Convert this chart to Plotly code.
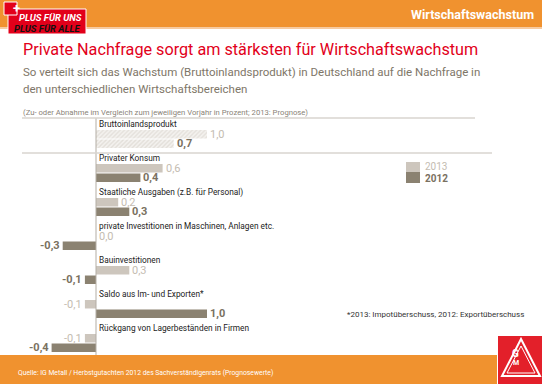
import plotly.graph_objects as go

categories = [
    "Bruttoinlandsprodukt",
    "Privater Konsum",
    "Staatliche Ausgaben (z.B. für Personal)",
    "private Investitionen in Maschinen, Anlagen etc.",
    "Bauinvestitionen",
    "Saldo aus Im- und Exporten*",
    "Rückgang von Lagerbeständen in Firmen",
]
values_2013 = [1.0, 0.6, 0.2, 0.0, 0.3, -0.1, -0.1]
values_2012 = [0.7, 0.4, 0.3, -0.3, -0.1, 1.0, -0.4]
series_names = ["2013", "2012"]

FONT = "Roboto, Lato, sans-serif"
C13 = "#cdc6bd"
C12 = "#8b8271"
T13 = "#c4bcb1"
T12 = "#7a7161"
ORANGE = "#f0922f"
RED = "#e2001a"

W, H = 542, 384
ML, MR, MT, MB = 22, 52, 118, 29
PX_PER_UNIT = 111
ZERO_PX = 96
ROW_PX = 34
FIRST_ROW_PX = 139

x_range = [-(ZERO_PX - ML) / PX_PER_UNIT, (W - MR - ZERO_PX) / PX_PER_UNIT]
y_top = (MT - FIRST_ROW_PX) / ROW_PX
y_bot = (H - MB - FIRST_ROW_PX) / ROW_PX

idx = list(range(len(categories)))
hatch = ["/" if i == 0 else "" for i in idx]

fig = go.Figure()
fig.add_trace(go.Bar(
    y=idx, x=values_2013, orientation="h", name=series_names[0],
    width=0.25, offset=-0.265,
    marker=dict(color=C13, line=dict(width=0),
                pattern=dict(shape=hatch, fgcolor="#d3cec7", bgcolor="#f4f2ef",
                             size=3, solidity=0.45)),
    showlegend=False, hoverinfo="skip",
))
fig.add_trace(go.Bar(
    y=idx, x=values_2012, orientation="h", name=series_names[1],
    width=0.25, offset=0.015,
    marker=dict(color=C12, line=dict(width=0),
                pattern=dict(shape=hatch, fgcolor="#cfc9c1", bgcolor="#f4f2ef",
                             size=3, solidity=0.45)),
    showlegend=False, hoverinfo="skip",
))

ann = []
shapes = []


def fmt(v):
    return f"{v:.1f}".replace(".", ",")


for i, cat in enumerate(categories):
    ann.append(dict(x=0, y=i - 0.44, xref="x", yref="y", text=cat, showarrow=False,
                    xanchor="left", yanchor="middle", xshift=1,
                    font=dict(family=FONT, size=8.3, color="#222222")))
    for v, off, col, bold in [(values_2013[i], -0.13, T13, False), (values_2012[i], 0.14, T12, True)]:
        txt = fmt(v)
        if bold:
            txt = "<b>" + txt + "</b>"
        ann.append(dict(x=v, y=i + off, xref="x", yref="y", text=txt, showarrow=False,
                        xanchor="left" if v >= 0 else "right", yanchor="middle",
                        xshift=1 if v >= 0 else -1,
                        font=dict(family=FONT, size=11, color=col)))


def px_x(px):
    return (px - ML) / (W - ML - MR)


def px_y(py):
    return 1 - (py - MT) / (H - MT - MB)


# axis / separator lines
shapes.append(dict(type="line", xref="x", yref="paper", x0=0, x1=0, y0=0, y1=1,
                   line=dict(color="#b3ada4", width=1)))
shapes.append(dict(type="line", xref="paper", yref="paper", x0=0, x1=px_x(475),
                   y0=1, y1=1, line=dict(color="#d9d5cf", width=1.5)))
sep_y = 0.41
shapes.append(dict(type="line", xref="paper", yref="y", x0=0, x1=px_x(492),
                   y0=sep_y, y1=sep_y, line=dict(color="#d9d5cf", width=1.5)))

# header band
shapes.append(dict(type="rect", xref="paper", yref="paper", x0=px_x(0), x1=px_x(W),
                   y0=px_y(27), y1=px_y(0), fillcolor=ORANGE, line=dict(width=0), layer="below"))
shapes.append(dict(type="rect", xref="paper", yref="paper", x0=px_x(0), x1=px_x(W),
                   y0=px_y(29), y1=px_y(27), fillcolor="#f7caa0", line=dict(width=0), layer="below"))
# footer band
shapes.append(dict(type="rect", xref="paper", yref="paper", x0=px_x(0), x1=px_x(497),
                   y0=px_y(H), y1=px_y(355), fillcolor=ORANGE, line=dict(width=0)))
# IG Metall logo
shapes.append(dict(type="rect", xref="paper", yref="paper", x0=px_x(498), x1=px_x(W),
                   y0=px_y(H), y1=px_y(336), fillcolor="#e3202a", line=dict(width=0)))


def tri_path(pts):
    return "M " + " L ".join(f"{px_x(a)},{px_y(b)}" for a, b in pts) + " Z"


shapes.append(dict(type="path", xref="paper", yref="paper",
                   path=tri_path([(521, 339), (502, 376), (540, 376)]),
                   line=dict(color="white", width=2)))
shapes.append(dict(type="path", xref="paper", yref="paper",
                   path=tri_path([(521, 346), (507, 373), (535, 373)]),
                   line=dict(color="white", width=1)))
ann.append(dict(x=px_x(521), y=px_y(361), xref="paper", yref="paper", text="<b>G</b>",
                showarrow=False, font=dict(family=FONT, size=10, color="white")))
ann.append(dict(x=px_x(521), y=px_y(369), xref="paper", yref="paper", text="<b>M</b>",
                showarrow=False, font=dict(family=FONT, size=7, color="white")))

# top-left logo
shapes.append(dict(type="rect", xref="paper", yref="paper", x0=px_x(8), x1=px_x(86),
                   y0=px_y(34), y1=px_y(9), fillcolor=RED, line=dict(color="white", width=1)))
shapes.append(dict(type="rect", xref="paper", yref="paper", x0=px_x(4), x1=px_x(17),
                   y0=px_y(15), y1=px_y(2), fillcolor=RED, line=dict(color="white", width=1)))
ann.append(dict(x=px_x(10.5), y=px_y(8.5), xref="paper", yref="paper", text="<b>+</b>",
                showarrow=False, yanchor="middle", font=dict(family=FONT, size=13, color="white")))
ann.append(dict(x=px_x(17), y=px_y(17), xref="paper", yref="paper", text="<b><i>PLUS FÜR UNS</i></b>",
                showarrow=False, xanchor="left", yanchor="middle",
                font=dict(family=FONT, size=9.5, color="white")))
ann.append(dict(x=px_x(12), y=px_y(28), xref="paper", yref="paper", text="<b><i>PLUS FÜR ALLE</i></b>",
                showarrow=False, xanchor="left", yanchor="middle",
                font=dict(family=FONT, size=9.5, color="#111111")))

# header text
ann.append(dict(x=px_x(536), y=px_y(14), xref="paper", yref="paper", text="<b>Wirtschaftswachstum</b>",
                showarrow=False, xanchor="right", yanchor="middle",
                font=dict(family=FONT, size=12.5, color="white")))

# titles
ann.append(dict(x=px_x(21), y=px_y(49), xref="paper", yref="paper",
                text="Private Nachfrage sorgt am stärksten für Wirtschaftswachstum",
                showarrow=False, xanchor="left", yanchor="middle",
                font=dict(family=FONT, size=16.2, color=RED)))
ann.append(dict(x=px_x(21), y=px_y(72), xref="paper", yref="paper",
                text="So verteilt sich das Wachstum (Bruttoinlandsprodukt) in Deutschland auf die Nachfrage in",
                showarrow=False, xanchor="left", yanchor="middle",
                font=dict(family=FONT, size=11.5, color="#7e7668")))
ann.append(dict(x=px_x(21), y=px_y(89), xref="paper", yref="paper",
                text="den unterschiedlichen Wirtschaftsbereichen",
                showarrow=False, xanchor="left", yanchor="middle",
                font=dict(family=FONT, size=11.5, color="#7e7668")))
ann.append(dict(x=px_x(21), y=px_y(112), xref="paper", yref="paper",
                text="(Zu- oder Abnahme im Vergleich zum jeweiligen Vorjahr in Prozent; 2013: Prognose)",
                showarrow=False, xanchor="left", yanchor="middle",
                font=dict(family=FONT, size=7.7, color="#8a8378")))

# legend
shapes.append(dict(type="rect", xref="paper", yref="paper", x0=px_x(406), x1=px_x(420),
                   y0=px_y(172), y1=px_y(162), fillcolor=C13, line=dict(width=0)))
shapes.append(dict(type="rect", xref="paper", yref="paper", x0=px_x(406), x1=px_x(420),
                   y0=px_y(183), y1=px_y(172), fillcolor=C12, line=dict(width=0)))
ann.append(dict(x=px_x(423), y=px_y(166.5), xref="paper", yref="paper", text=series_names[0],
                showarrow=False, xanchor="left", yanchor="middle",
                font=dict(family=FONT, size=10, color=T13)))
ann.append(dict(x=px_x(423), y=px_y(178.5), xref="paper", yref="paper", text="<b>" + series_names[1] + "</b>",
                showarrow=False, xanchor="left", yanchor="middle",
                font=dict(family=FONT, size=10, color=T12)))

# footnote and source
ann.append(dict(x=px_x(345), y=px_y(314), xref="paper", yref="paper",
                text="*2013: Impotüberschuss, 2012: Exportüberschuss",
                showarrow=False, xanchor="left", yanchor="middle",
                font=dict(family=FONT, size=8, color="#333333")))
ann.append(dict(x=px_x(16), y=px_y(373), xref="paper", yref="paper",
                text="Quelle: IG Metall / Herbstgutachten 2012 des Sachverständigenrats (Prognosewerte)",
                showarrow=False, xanchor="left", yanchor="middle",
                font=dict(family=FONT, size=6.8, color="white")))

fig.update_layout(
    width=W, height=H,
    margin=dict(l=ML, r=MR, t=MT, b=MB, pad=0),
    paper_bgcolor="white", plot_bgcolor="white",
    barmode="overlay",
    xaxis=dict(range=x_range, visible=False, fixedrange=True),
    yaxis=dict(range=[y_bot, y_top], visible=False, fixedrange=True),
    annotations=ann, shapes=shapes,
    showlegend=False,
)
fig.write_html("out.html", config={"displayModeBar": False})
